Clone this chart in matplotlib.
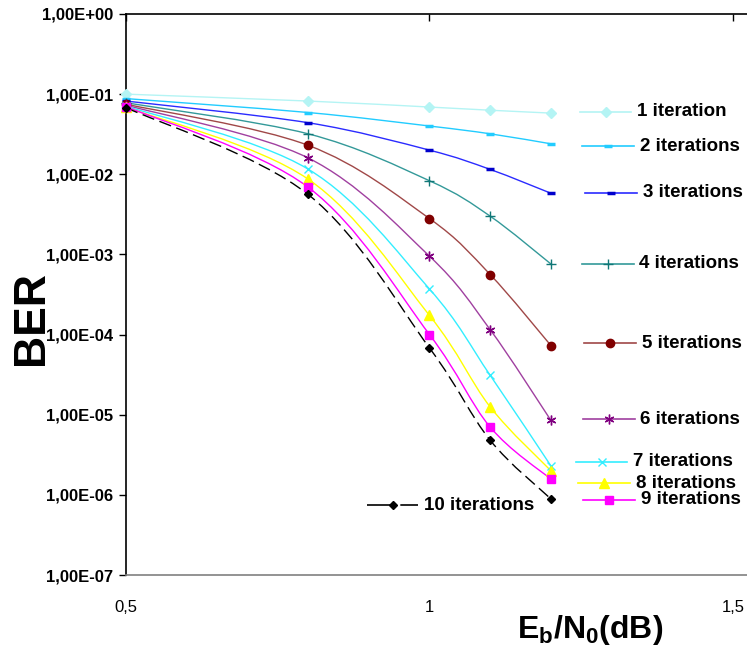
import numpy as np
import matplotlib.pyplot as plt
from matplotlib.path import Path
from matplotlib.patches import PathPatch
from matplotlib.lines import Line2D
from matplotlib.ticker import NullLocator

plt.rcParams['font.family'] = ['Liberation Sans', 'DejaVu Sans']
plt.rcParams['mathtext.fontset'] = 'custom'
plt.rcParams['mathtext.bf'] = 'Liberation Sans:bold'
plt.rcParams['mathtext.rm'] = 'Liberation Sans'

# Eb/N0 values (dB)
snr = [0.5, 0.8, 1.0, 1.1, 1.2]

# BER per iteration count
ber_1 = [1.00e-1, 8.2e-2, 6.9e-2, 6.3e-2, 5.8e-2]
ber_2 = [8.8e-2, 5.9e-2, 4.0e-2, 3.2e-2, 2.4e-2]
ber_3 = [8.2e-2, 4.4e-2, 2.0e-2, 1.15e-2, 5.8e-3]
ber_4 = [7.8e-2, 3.2e-2, 8.3e-3, 3.0e-3, 7.6e-4]
ber_5 = [7.5e-2, 2.3e-2, 2.8e-3, 5.6e-4, 7.3e-5]
ber_6 = [7.3e-2, 1.6e-2, 9.5e-4, 1.15e-4, 8.5e-6]
ber_7 = [7.1e-2, 1.16e-2, 3.7e-4, 3.1e-5, 2.3e-6]
ber_8 = [6.9e-2, 8.7e-3, 1.73e-4, 1.25e-5, 2.0e-6]
ber_9 = [7.0e-2, 6.9e-3, 1.0e-4, 7.0e-6, 1.57e-6]
ber_10 = [6.8e-2, 5.6e-3, 6.8e-5, 4.8e-6, 8.9e-7]

labels = ['1 iteration', '2 iterations', '3 iterations', '4 iterations',
          '5 iterations', '6 iterations', '7 iterations', '8 iterations',
          '9 iterations', '10 iterations']
series = [ber_1, ber_2, ber_3, ber_4, ber_5, ber_6, ber_7, ber_8, ber_9, ber_10]

ytick_vals = [1e0, 1e-1, 1e-2, 1e-3, 1e-4, 1e-5, 1e-6, 1e-7]
ytick_labels = ['1,00E+00', '1,00E-01', '1,00E-02', '1,00E-03', '1,00E-04',
                '1,00E-05', '1,00E-06', '1,00E-07']
xtick_vals = [0.5, 1.0, 1.5]
xtick_labels = ['0,5', '1', '1,5']

# style: line colour, marker, marker colour, marker size, marker edge width
styles = [
    ('#B4F4F4', 'D', '#B4F4F4', 5, 1),
    ('#22CCFF', '_', '#22CCFF', 6, 2.5),
    ('#2B2BFF', '_', '#0000CC', 6, 2.5),
    ('#339999', '+', '#117777', 7, 1),
    ('#A04848', 'o', '#800000', 6, 1),
    ('#A040A0', (6, 2, 0), '#800080', 7, 1),
    ('#33EEFF', 'x', '#33EEFF', 6, 1),
    ('#FFFF00', '^', '#FFFF00', 7, 1),
    ('#FF00FF', 's', '#FF00FF', 6, 1),
    ('#000000', 'D', '#000000', 4.5, 1),
]

# legend layout in pixels: line start, line end, text x, y centre
legend_pos = [(580, 631, 637, 112), (582, 634, 640, 146), (585, 637, 643, 193),
              (582, 634, 639, 264), (584, 636, 642, 343), (583, 635, 640, 419),
              (576, 627, 633, 462), (578, 630, 636, 483), (583, 635, 641, 500),
              (367, 418, 424, 505)]


def smooth_path(xs, ys):
    # Excel-style smoothed line: cubic bezier through points, in (x, log y) space
    px = np.array(xs, dtype=float)
    py = np.log10(np.array(ys, dtype=float))
    n = len(px)
    verts = [(px[0], py[0])]
    codes = [Path.MOVETO]
    for i in range(n - 1):
        i0 = max(i - 1, 0)
        i3 = min(i + 2, n - 1)
        c1 = (px[i] + (px[i + 1] - px[i0]) / 6, py[i] + (py[i + 1] - py[i0]) / 6)
        c2 = (px[i + 1] - (px[i3] - px[i]) / 6, py[i + 1] - (py[i3] - py[i]) / 6)
        verts += [c1, c2, (px[i + 1], py[i + 1])]
        codes += [Path.CURVE4] * 3
    verts = [(vx, 10 ** vy) for vx, vy in verts]
    return Path(verts, codes)


W, H = 747, 650
fig = plt.figure(figsize=(W / 100, H / 100), dpi=100)
ax = fig.add_axes([126 / W, 75 / H, 621 / W, 561 / H])
ax.set_yscale('log')
ax.set_xlim(0.5, 1.5 + 14 / 607)
ax.set_ylim(1e-7, 1e0)

for i, (vals, (lc, mk, mc, ms, mew)) in enumerate(zip(series, styles)):
    ls = (0, (9, 4)) if i == 9 else '-'
    patch = PathPatch(smooth_path(snr, vals), facecolor='none', edgecolor=lc,
                      lw=1.0, linestyle=ls, zorder=2 + i * 0.01)
    ax.add_patch(patch)
    ax.plot(snr, vals, linestyle='none', marker=mk, color=mc, ms=ms, mew=mew,
            mec=mc, zorder=3 + i * 0.01, clip_on=False)

    x0, x1, tx, yc = legend_pos[i]
    yf = 1 - yc / H
    leg_ls = (0, (14, 6)) if i == 9 else '-'
    fig.add_artist(Line2D([x0 / W, x1 / W], [yf, yf], color=lc, lw=1.2,
                          linestyle=leg_ls, transform=fig.transFigure))
    fig.add_artist(Line2D([(x0 + x1) / 2 / W], [yf], linestyle='none', marker=mk,
                          color=mc, ms=ms, mew=mew, mec=mc,
                          transform=fig.transFigure))
    fig.text(tx / W, yf, labels[i], fontsize=13.5, fontweight='bold',
             ha='left', va='center')

ax.set_yticks(ytick_vals)
ax.set_yticklabels(ytick_labels, fontsize=12, fontweight='bold')
ax.yaxis.set_minor_locator(NullLocator())
ax.set_xticks(xtick_vals)
ax.set_xticklabels(xtick_labels, fontsize=12)
ax.xaxis.set_minor_locator(NullLocator())

ax.tick_params(axis='y', direction='out', length=5, width=1, pad=4, colors='black')
ax.tick_params(axis='x', direction='in', length=5, width=1, top=True, bottom=False,
               labeltop=False, labelbottom=True, pad=18)

ax.spines['right'].set_visible(False)
ax.spines['top'].set_color('black')
ax.spines['top'].set_linewidth(1.2)
ax.spines['left'].set_linewidth(1.2)
ax.spines['bottom'].set_color('#808080')
ax.spines['bottom'].set_linewidth(1.2)

fig.text(32 / W, 1 - 318 / H, 'BER', fontsize=32, fontweight='bold',
         rotation=90, ha='center', va='center')
fig.text(590 / W, 1 - 630 / H, r'$\mathbf{E_b/N_0(dB)}$', fontsize=23,
         ha='center', va='center')

fig.savefig('out.png', dpi=100)
